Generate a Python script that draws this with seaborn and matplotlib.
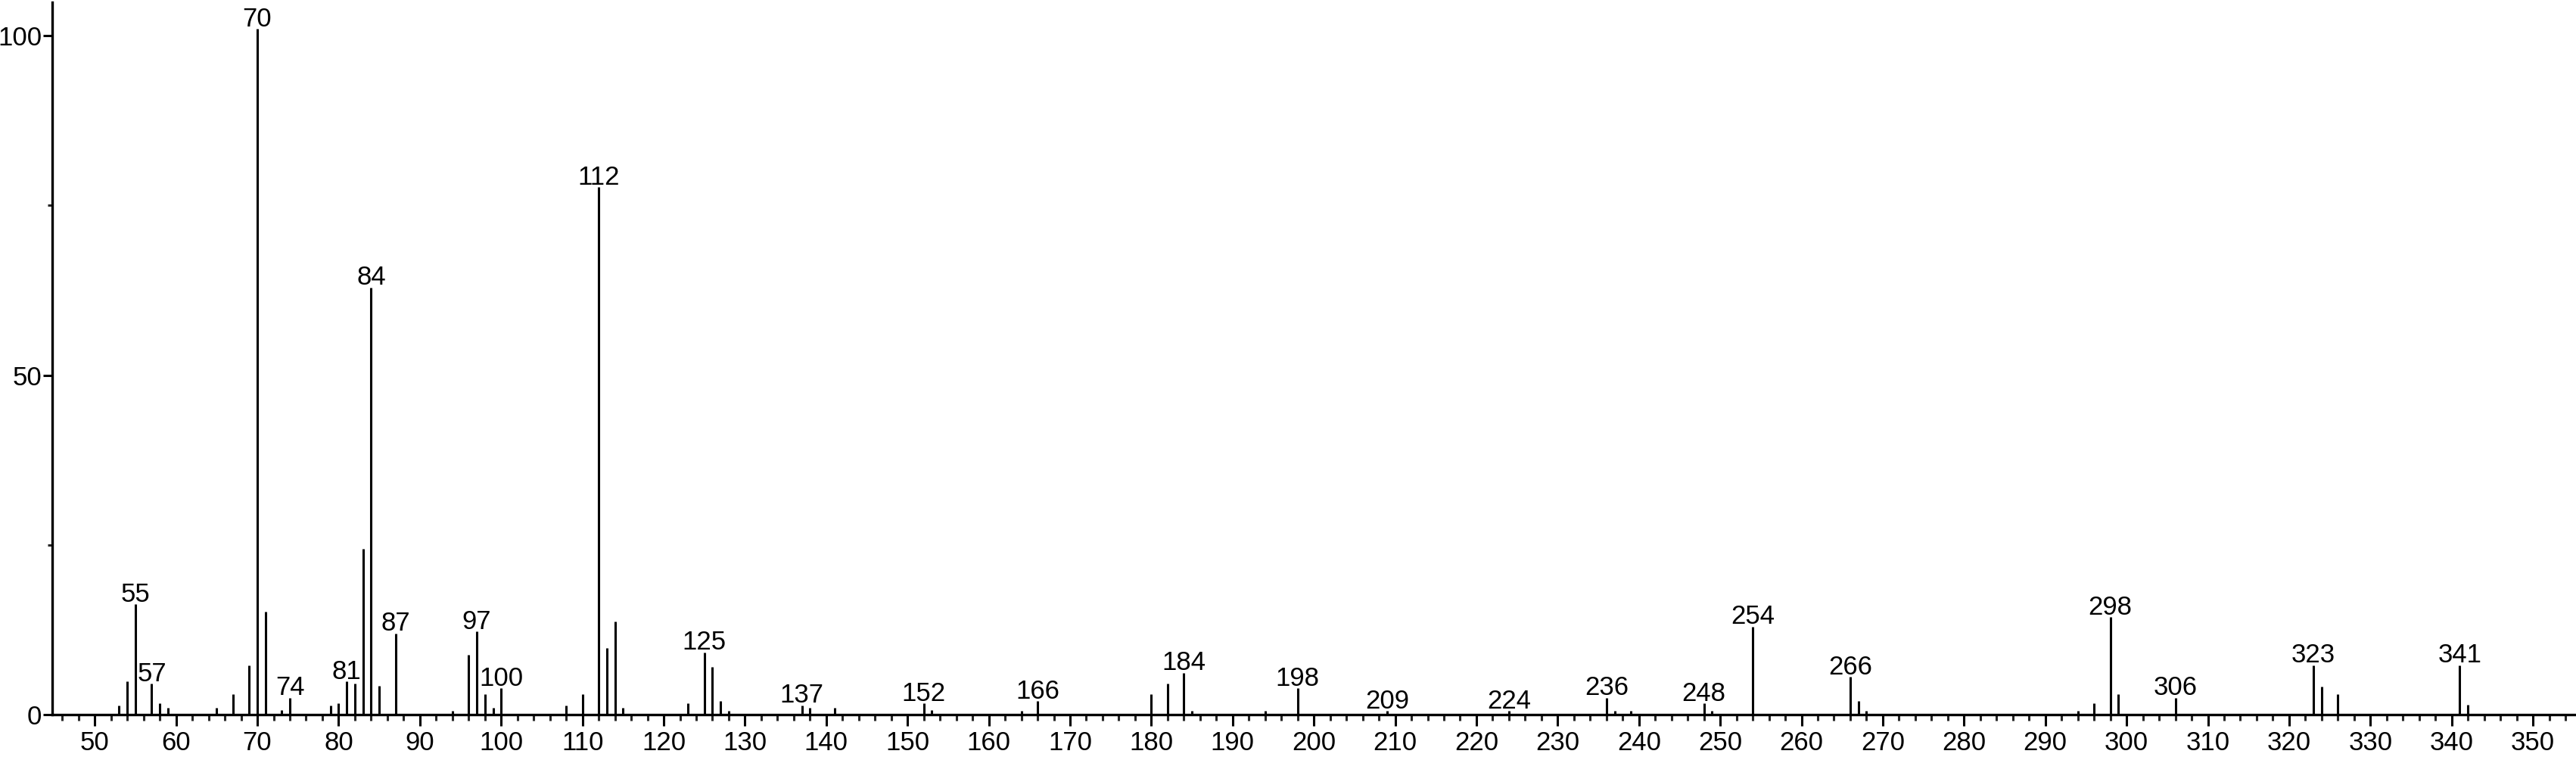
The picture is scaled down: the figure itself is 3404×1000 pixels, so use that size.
"""
Mass spectrum (EI) stick plot, relative abundance vs m/z
"""

import pandas as pd
import matplotlib
matplotlib.use("Agg")
import matplotlib.pyplot as plt
import seaborn as sns
from matplotlib.ticker import MultipleLocator

# m/z values and relative abundances
mz = [53, 54, 55, 57, 58, 59, 65, 67, 69, 70, 71, 73, 74, 79, 80, 81, 82, 83, 84, 85,
      87, 94, 96, 97, 98, 99, 100, 108, 110, 112, 113, 114, 115, 123, 125, 126, 127,
      128, 137, 138, 141, 152, 153, 164, 166, 180, 182, 184, 185, 194, 198, 209, 224,
      236, 237, 239, 248, 249, 254, 266, 267, 268, 294, 296, 298, 299, 306, 323, 324,
      326, 341, 342]
intensity = [1.4, 4.9, 16.3, 4.6, 1.7, 1.0, 1.0, 3.1, 7.3, 101.0, 15.2, 0.7, 2.5, 1.4,
             1.7, 4.9, 4.6, 24.5, 62.9, 4.3, 12.0, 0.6, 8.9, 12.3, 3.1, 1.0, 3.9, 1.4,
             3.1, 77.7, 9.9, 13.8, 1.0, 1.7, 9.2, 7.1, 2.0, 0.6, 1.4, 1.0, 1.0, 1.7,
             0.7, 0.6, 2.0, 3.1, 4.6, 6.2, 0.6, 0.6, 3.9, 0.6, 0.6, 2.5, 0.6, 0.6, 1.7,
             0.6, 13.0, 5.6, 2.0, 0.6, 0.6, 1.7, 14.4, 3.1, 2.5, 7.3, 4.2, 3.1, 7.3, 1.5]

# peaks that carry an m/z label
labeled = [55, 57, 70, 74, 81, 84, 87, 97, 100, 112, 125, 137, 152, 166, 184, 198,
           209, 224, 236, 248, 254, 266, 298, 306, 323, 341]


def plot_spectrum():
    df = pd.DataFrame({'mz': mz, 'intensity': intensity})

    sns.set_theme(style='ticks')
    plt.rcParams['font.family'] = ['Liberation Sans', 'DejaVu Sans']

    fig = plt.figure(figsize=(34.04, 10), dpi=100)
    ax = fig.add_axes([69 / 3404, 0.0556, 1 - 69 / 3404, 0.9414])

    ax.vlines(df['mz'], 0, df['intensity'], colors='black', linewidth=2.2)

    # peak labels
    for _, row in df[df['mz'].isin(labeled)].iterrows():
        ax.annotate(str(int(row['mz'])), (row['mz'], row['intensity']),
                    xytext=(0, 2.5), textcoords='offset points',
                    ha='center', va='baseline', fontsize=25, color='black')

    ax.set_xlim(44.76, 355.3)
    ax.set_ylim(0, 104.9)

    ax.xaxis.set_major_locator(MultipleLocator(10))
    ax.xaxis.set_minor_locator(MultipleLocator(2))
    ax.yaxis.set_major_locator(MultipleLocator(50))
    ax.yaxis.set_minor_locator(MultipleLocator(25))

    ax.tick_params(axis='x', which='major', length=11, width=2.2, labelsize=25, pad=4,
                   colors='black')
    ax.tick_params(axis='x', which='minor', length=6, width=2.2)
    ax.tick_params(axis='y', which='major', length=9, width=2.2, labelsize=25, pad=1,
                   colors='black')
    ax.tick_params(axis='y', which='minor', length=4.5, width=2.2)

    sns.despine(ax=ax)
    for side in ['left', 'bottom']:
        ax.spines[side].set_linewidth(2.4)
        ax.spines[side].set_color('black')

    fig.savefig('out.png', dpi=100)


if __name__ == "__main__":
    plot_spectrum()
